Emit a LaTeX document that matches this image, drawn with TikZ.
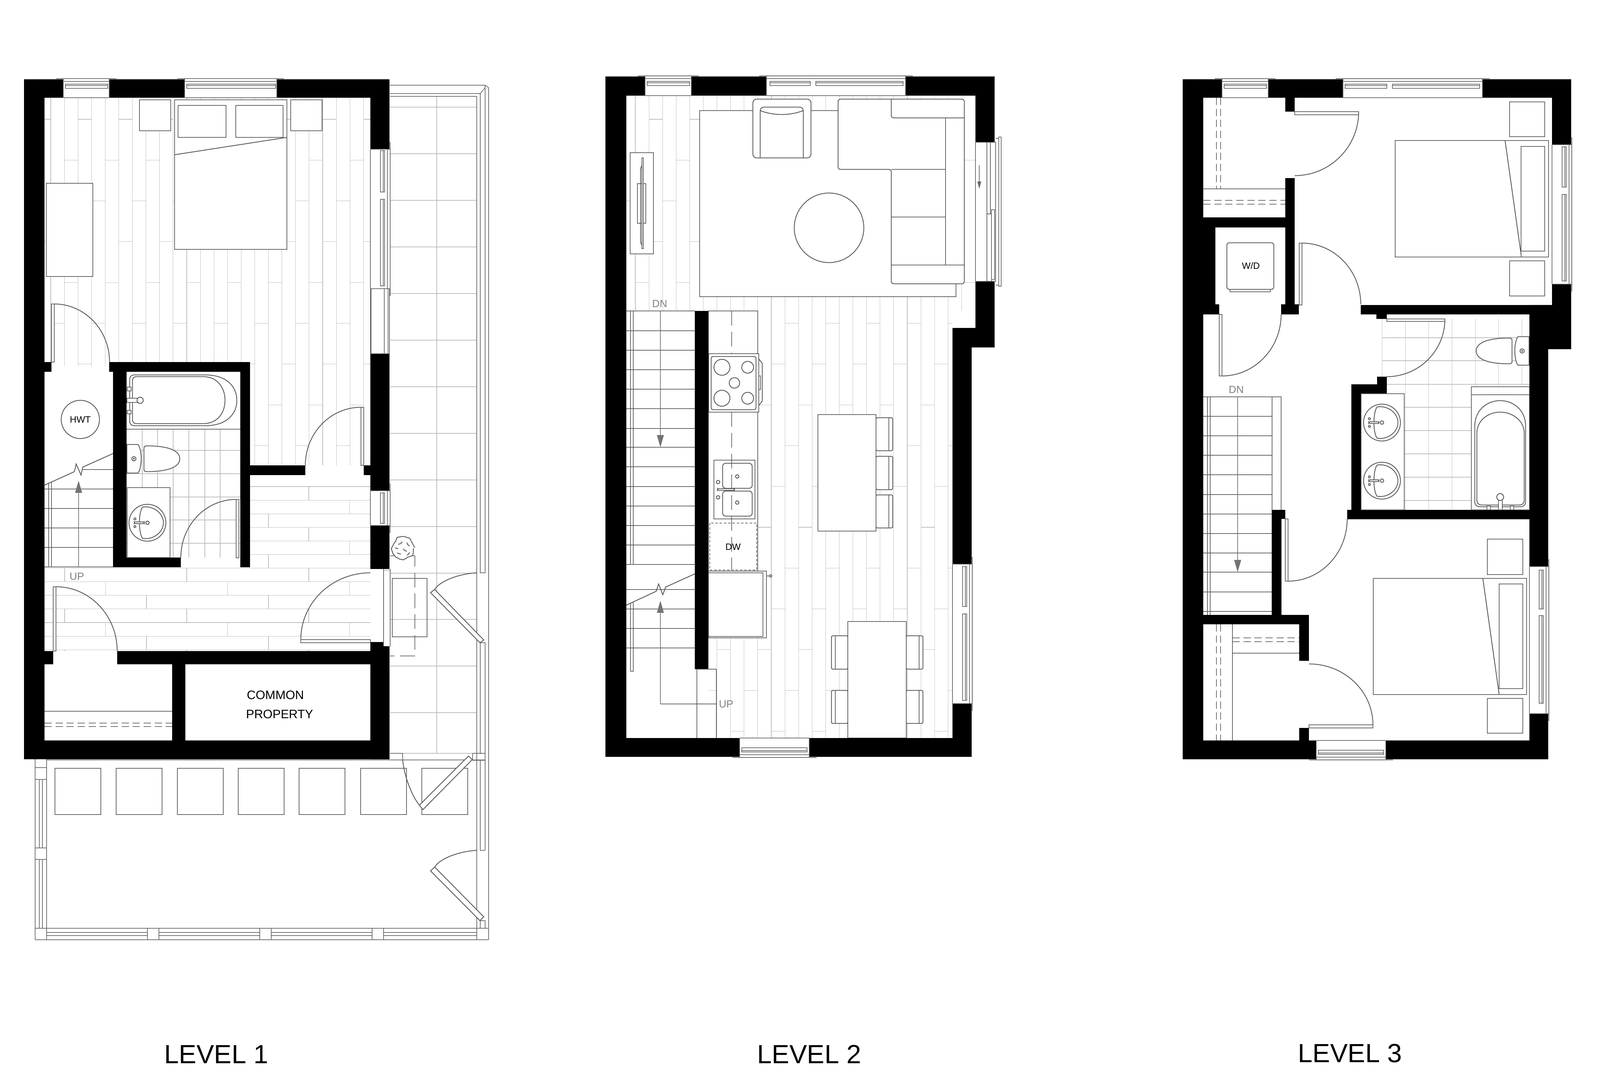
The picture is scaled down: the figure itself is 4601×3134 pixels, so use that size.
\documentclass[tikz,border=0pt]{standalone}
\usepackage{fontspec}
\setmainfont{Liberation Sans}
\usetikzlibrary{calc,arrows.meta,decorations.pathmorphing}

%Window set into a wall: position, rotation, length, wall depth, panes
\newcommand{\wallwin}[5]{
	\begin{scope}[shift={(#1)},rotate=#2]
		\fill[white] (0,0) rectangle (#3,#4);
		\draw[fine] (0,#4) -- (#3,#4);
		\draw[fine] (0,-1) -- (0,#4) (#3,-1) -- (#3,#4);
		\draw[fine] (-21,-2) -- (#3+21,-2);
		\draw[fine] (0,6) -- (#3,6);
		\foreach \a/\b in {#5} {
			\draw[fine] (\a,14) rectangle (\b,26);
			\draw[fine] (\a,18) -- (\b,18);
		}
	\end{scope}
}
%Quarter swing of a door: free end, jamb, corner
\newcommand{\swing}[3]{
	\draw[furn] (#1) .. controls ($(#1)!0.552!(#3)$) and ($(#2)!0.552!(#3)$) .. (#2);
}
%Staggered planks: first x, last column, first y, last row, phase, top, bottom
\newcommand{\planks}[7]{
	\foreach \i in {0,...,#2}
		\draw[plank] ({#1+39.1*\i},#6) -- ({#1+39.1*\i},#7);
	\foreach \j in {0,...,#4}
		\foreach \i in {-1,...,#2} {
			\pgfmathtruncatemacro{\k}{mod(\i+\j+3,3)}
			\ifnum\k=#5
				\draw[plank] ({#1+39.1*\i},{#3+117.3*\j}) -- ({#1+39.1*(\i+1)},{#3+117.3*\j});
			\fi
		}
}
%Round basin, origin at the drain
\newcommand{\basin}[1]{
	\begin{scope}[shift={(#1)}]
		\draw[furn] (0,0) circle (53);
		\draw[furn] (-14,-45) .. controls (20,-50) and (46,-25) .. (46,0) .. controls (46,25) and (20,50) .. (-14,45) .. controls (-26,30) and (-26,-30) .. (-14,-45) -- cycle;
		\draw[furn,fill=white,rounded corners=1pt] (-38,-2.5) rectangle (-9,2.5);
		\draw[furn] (0,0) circle (5) (-36,-11) circle (3) (-36,11) circle (3);
	\end{scope}
}
%Toilet, origin where the tank meets the wall
\newcommand{\toilet}[2]{
	\begin{scope}[shift={(#1)},xscale=#2]
		\draw[furn,fill=white] (0,-41) -- (32,-41) .. controls (44,-25) and (44,25) .. (32,41) -- (0,41) -- cycle;
		\draw[furn,fill=white] (49,-30) .. controls (49,-36) and (52,-37) .. (58,-37) .. controls (115,-37) and (152,-25) .. (152,0) .. controls (152,25) and (115,37) .. (58,37) .. controls (52,37) and (49,36) .. (49,30) -- cycle;
		\draw[furn] (20,0) circle (6);
		\fill[black!65] (20,0) circle (2.5);
	\end{scope}
}

\begin{document}
\begin{tikzpicture}
		[x=0.01cm,y=-0.01cm,line cap=butt,
		%Styles
		wall/.style={fill=black},
		furn/.style={draw=black!65,line width=0.65pt},
		fine/.style={draw=black!60,line width=0.5pt},
		plank/.style={draw=black!28,line width=0.3pt},
		guide/.style={draw=black!60,line width=0.55pt,dash pattern=on 12pt off 5pt},
		shortdash/.style={draw=black!60,line width=0.55pt,dash pattern=on 6pt off 3pt},
		stairarrow/.style={draw=black!55,line width=0.6pt,-{Triangle[width=5.6pt,length=10pt,fill=black!55]}},
		title/.style={font=\fontsize{21.5}{24}\selectfont,inner sep=0pt},
		tag/.style={font=\fontsize{7.5}{9}\selectfont,inner sep=0pt},
		roomname/.style={font=\fontsize{10}{12}\selectfont,inner sep=0pt},
		updown/.style={font=\fontsize{8.5}{10}\selectfont,text=black!50,inner sep=0pt}
		]
		\useasboundingbox (0,0) rectangle (4601,3134);
		\fill[white] (0,0) rectangle (4601,3134);

		%The graphic: level 1
		\begin{scope}
			\clip (128,281) rectangle (1065,1053) (719,1053) rectangle (1065,1338);
			\planks{146}{23}{343}{8}{2}{281}{1338}
		\end{scope}
		\begin{scope}
			\clip (719,1366) rectangle (1065,1633) (128,1633) rectangle (1065,1872);
			\foreach \r in {0,...,12}
				\draw[plank] (128,{1399+39.1*\r}) -- (1065,{1399+39.1*\r});
			\foreach \r in {0,...,12}
				\foreach \n in {-1,...,3} {
					\pgfmathsetmacro{\px}{186+351*\n+117.5*mod(\r,3)}
					\draw[plank] (\px,{1399+39.1*\r}) -- (\px,{1399+39.1*(\r+1)});
				}
		\end{scope}
		\begin{scope}
			\clip (364,1234) rectangle (691,1603);
			\foreach \tx in {409,453,498,543,589,633}
				\draw[plank] (\tx,1234) -- (\tx,1603);
			\foreach \ty in {1295,1362,1429,1495,1562}
				\draw[plank] (364,\ty) -- (691,\ty);
		\end{scope}
		%patio paving
		\foreach \ty in {308,442,576,710,844,978,1112,1246,1380,1514,1648,1781,1915,2049,2166}
			\draw[plank] (1122,\ty) -- (1371,\ty);
		\draw[plank] (1256,277) -- (1256,2166);
		\draw[plank] (1103,1640) -- (1122,1640);

		%bedroom furniture
		\draw[furn,fill=white] (502,287) rectangle (825,717);
		\draw[furn] (512,303) rectangle (650,395) (678,303) rectangle (814,395);
		\draw[furn] (502,445) -- (825,395);
		\draw[furn,fill=white] (401,287) rectangle (491,376);
		\draw[furn,fill=white] (836,287) rectangle (926,376);
		\draw[furn,fill=white] (133,527) rectangle (267,795);

		%walls
		\fill[wall] (69,228) rectangle (1120,281);
		\fill[wall] (69,228) rectangle (128,2183);
		\fill[wall] (1065,228) rectangle (1120,1636);
		\fill[wall] (1065,1846) -- (1103,1846) -- (1103,1858) -- (1120,1858) -- (1120,2183) -- (1065,2183) -- cycle;
		\fill[wall] (69,2129) rectangle (1120,2183);
		\fill[wall] (337,1872) rectangle (1065,1910);
		\fill[wall] (128,1872) rectangle (153,1910);
		\fill[wall] (495,1910) rectangle (533,2129);
		\fill[wall] (128,1041) rectangle (148,1069);
		\fill[wall] (314,1041) rectangle (719,1069);
		\fill[wall] (325,1069) rectangle (364,1631);
		\fill[wall] (325,1603) rectangle (520,1631);
		\fill[wall] (691,1041) rectangle (719,1631);
		\fill[wall] (719,1338) rectangle (878,1366);
		\fill[wall] (1046,1338) rectangle (1065,1366);

		\wallwin{182,228}{0}{132}{53}{6/128}
		\wallwin{531,228}{0}{265}{53}{6/262}
		\wallwin{1120,429}{-90}{401}{55}{4/123,144/393}
		\fill[white] (1067,830) rectangle (1120,1017);
		\draw[fine] (1067,830) rectangle (1120,1017);
		\draw[fine] (1105,830) -- (1105,1017) (1116,830) -- (1116,1017);
		\wallwin{1120,1411}{-90}{100}{55}{6/94}

		%doors
		\draw[furn,fill=white] (148,874) rectangle (156,1041);
		\swing{156,874}{315,1041}{315,874}
		\draw[furn,fill=white] (679,1436) rectangle (687,1604);
		\swing{679,1436}{520,1603}{520,1436}
		\draw[furn,fill=white] (1038,1171) rectangle (1046,1338);
		\swing{1038,1171}{878,1338}{878,1171}
		\draw[furn,fill=white] (153,1687) rectangle (161,1872);
		\swing{161,1687}{337,1872}{337,1687}
		\draw[furn,fill=white] (865,1839) rectangle (1065,1848);
		\swing{865,1839}{1065,1647}{865,1647}
		\draw[furn] (1103,1636) -- (1103,1846) (1122,1636) -- (1122,1858);

		%water heater
		\draw[furn,fill=white] (231,1206) circle (55);
		\node[tag] (hwt) at (231,1206) {HWT};

		%stair up
		\foreach \ty in {1406,1462,1518,1574,1630}
			\draw[furn] (128,\ty) -- (325,\ty);
		\draw[furn] (238,1350) -- (325,1350);
		\draw[furn] (140,1388) -- (140,1630) (148,1385) -- (148,1630);
		\draw[furn] (128,1395) -- (214,1356) -- (219,1334) -- (233,1366) -- (238,1343) -- (325,1304);
		\fill[white] (224,1406) rectangle (228,1418);
		\draw[stairarrow] (226,1630) -- (226,1382);
		\node[updown] (up1) at (221,1657) {UP};

		%bathroom
		\draw[furn] (364,1234) -- (691,1234);
		\draw[furn] (385,1078) -- (590,1078) .. controls (650,1078) and (681,1110) .. (681,1151) .. controls (681,1192) and (650,1224) .. (590,1224) -- (385,1224) .. controls (378,1224) and (373,1219) .. (373,1212) -- (373,1090) .. controls (373,1083) and (378,1078) .. (385,1078) -- cycle;
		\draw[furn] (392,1083) -- (585,1083) .. controls (625,1083) and (647,1115) .. (647,1151) .. controls (647,1187) and (625,1218) .. (585,1218) -- (392,1218) .. controls (385,1218) and (381,1214) .. (381,1207) -- (381,1094) .. controls (381,1087) and (385,1083) .. (392,1083) -- cycle;
		\draw[furn,fill=white] (366,1113) rectangle (377,1124) (366,1180) rectangle (377,1190);
		\draw[furn,fill=white] (365,1145) rectangle (397,1157);
		\draw[furn,fill=white] (403,1151) circle (9);
		\toilet{365,1319}{1}
		\draw[furn,fill=white] (366,1402) rectangle (489,1603);
		\basin{424,1503}

		%storage
		\draw[furn] (128,2045) -- (495,2045);
		\draw[shortdash] (128,2079) -- (495,2079) (128,2089) -- (495,2089);
		\node[roomname] (common) at (792,1998) {COMMON};
		\node[roomname] (property) at (804,2053) {PROPERTY};

		%side patio frame
		\draw[fine] (1122,245) -- (1395,245) -- (1405,252) -- (1405,2702);
		\draw[fine] (1122,269) -- (1381,269) -- (1395,252);
		\draw[fine] (1122,277) -- (1371,277) -- (1371,2702);
		\draw[fine] (1381,269) -- (1381,1647) -- (1395,1647) -- (1395,245);
		\draw[fine] (1381,2168) -- (1381,1848) -- (1395,1848) -- (1395,2168);
		\draw[fine] (1359,2166) rectangle (1395,2186);
		\draw[fine] (1381,2445) -- (1381,2186) (1395,2186) -- (1395,2445) (1381,2445) -- (1395,2445);
		\draw[fine] (1381,2669) -- (1381,2647) -- (1395,2647) -- (1395,2669);
		\draw[furn,fill=white] (1250,1695) -- (1238,1704) -- (1380,1848) -- (1391,1840) -- cycle;
		\swing{1250,1695}{1371,1647}{1275,1652}

		%mat and plant at the entry
		\draw[furn] (1128,1663) rectangle (1228,1831);
		\draw[guide] (1122,1598) -- (1193,1598) -- (1193,1886) -- (1122,1886);
		\draw[furn,fill=white,decorate,decoration={random steps,segment length=3pt,amplitude=1pt}] (1159,1576) circle (30);
		\draw[furn,decorate,decoration={random steps,segment length=2pt,amplitude=1pt}] (1145,1565) -- (1157,1558) (1170,1560) -- (1178,1570) (1142,1590) -- (1152,1594) (1160,1578) -- (1170,1585) (1178,1588) -- (1170,1596) (1136,1575) -- (1145,1578);

		%front yard
		\foreach \sx in {158,334,510,685,860,1037,1213}
			\draw[furn] (\sx,2209) rectangle ++(132,133);
		\draw[fine] (134,2185) -- (1395,2185);
		\draw[fine] (1122,2166) -- (1158,2166) -- (1158,2185);
		\draw[fine] (101,2183) -- (101,2702) (134,2183) -- (134,2702);
		\draw[fine] (113,2241) -- (113,2438) (122,2241) -- (122,2438) (113,2471) -- (113,2669) (122,2471) -- (122,2669);
		\foreach \ty in {2207,2241,2438,2471}
			\draw[fine] (101,\ty) -- (134,\ty);
		\draw[fine] (101,2669) -- (1405,2669) (101,2702) -- (1405,2702);
		\draw[fine] (134,2681) -- (1371,2681) (134,2690) -- (1371,2690);
		\foreach \a/\b in {424/457,747/780,1070/1103} {
			\fill[white] (\a,2670) rectangle (\b,2701);
			\draw[fine] (\a,2669) -- (\a,2702) (\b,2669) -- (\b,2702);
		}
		\draw[furn,fill=white] (1347,2174) -- (1358,2184) -- (1216,2328) -- (1206,2315) -- cycle;
		\swing{1206,2315}{1158,2185}{1165,2265}
		\draw[furn,fill=white] (1250,2493) -- (1238,2504) -- (1380,2647) -- (1391,2636) -- cycle;
		\swing{1250,2493}{1371,2445}{1275,2450}

		\node[title] (level1) at (622,3031) {LEVEL 1};

		%The graphic: level 2
		\begin{scope}
			\clip (1801,275) rectangle (2805,894) (2037,894) rectangle (2739,2122);
			\planks{1827}{24}{343}{15}{1}{275}{2122}
		\end{scope}

		%living room
		\draw[furn,fill=white] (2012,318) rectangle (2749,853);
		\draw[furn,fill=white,rounded corners=3pt] (2165,285) rectangle (2332,454);
		\draw[furn,rounded corners=3pt] (2186,454) -- (2186,308) -- (2310,308) -- (2310,454);
		\draw[furn] (2186,318) .. controls (2225,333) and (2271,333) .. (2310,318);
		\draw[furn,fill=white,rounded corners=2pt] (2410,285) -- (2773,285) -- (2773,816) -- (2563,816) -- (2563,487) -- (2410,487) -- cycle;
		\draw[furn,rounded corners=2pt] (2563,285) -- (2563,339) -- (2773,339);
		\draw[furn] (2719,339) -- (2719,762) (2563,487) -- (2719,487) (2563,624) -- (2719,624) (2563,762) -- (2773,762);
		\draw[furn] (2384,655) circle (100);
		\draw[furn,fill=white] (1812,439) rectangle (1879,730);
		\draw[furn] (1846,476) .. controls (1842,482) and (1842,486) .. (1842,492) -- (1842,690) .. controls (1842,696) and (1842,700) .. (1846,704);
		\draw[furn] (1833,528) rectangle (1857,642);
		\draw[furn,fill=white] (1846,454) rectangle (1850,715);

		%kitchen
		\draw[furn,fill=white] (2037,894) rectangle (2179,1645);
		\draw[guide] (2104,894) -- (2104,1017);
		\draw[furn,fill=white] (2038,1017) rectangle (2182,1185);
		\draw[furn,rounded corners=1.5pt] (2045,1025) rectangle (2174,1178);
		\draw[furn] (2076,1056) circle (23) (2150,1056) circle (17) (2112,1101) circle (15) (2076,1145) circle (23) (2150,1145) circle (17);
		\draw[furn] (2182,1032) -- (2192,1045) -- (2192,1153) -- (2182,1166);
		\draw[furn] (2182,1081) rectangle (2187,1120);
		\draw[guide] (2104,1185) -- (2104,1639);
		\draw[furn] (2053,1323) rectangle (2171,1492);
		\draw[furn,rounded corners=2.5pt] (2078,1332) rectangle (2163,1404) (2078,1412) rectangle (2163,1484);
		\draw[furn] (2120,1370) circle (5) (2120,1445) circle (5) (2065,1386) circle (5) (2065,1430) circle (5);
		\draw[furn,fill=white,rounded corners=1pt] (2063,1405) rectangle (2112,1410);
		\draw[shortdash,dash pattern=on 2pt off 1.5pt] (2041,1504) rectangle (2176,1639);
		\node[tag] (dw) at (2108,1572) {DW};
		\draw[furn,fill=white] (2037,1642) rectangle (2204,1834);
		\draw[furn] (2037,1647) -- (2194,1647) -- (2194,1830) -- (2037,1830);
		\draw[furn] (2204,1656) -- (2213,1656);
		\draw[furn] (2216,1656) circle (3.5);

		%island and stools
		\foreach \a/\b in {1201/1296,1312/1408,1423/1518} {
			\draw[furn,fill=white,rounded corners=1pt] (2519,\a) rectangle (2567,\b);
			\draw[furn] (2556,\a) -- (2556,\b);
		}
		\draw[furn,fill=white] (2352,1192) rectangle (2519,1527);

		%dining table
		\foreach \a/\b in {1828/1924,1985/2080} {
			\draw[furn,fill=white,rounded corners=1pt] (2391,\a) rectangle (2438,\b);
			\draw[furn] (2402,\a) -- (2402,\b);
			\draw[furn,fill=white,rounded corners=1pt] (2606,\a) rectangle (2654,\b);
			\draw[furn] (2643,\a) -- (2643,\b);
		}
		\draw[furn,fill=white] (2438,1787) rectangle (2606,2122);

		%walls
		\fill[wall,even odd rule] (1741,220) -- (2860,220) -- (2860,999) -- (2794,999) -- (2794,2176) -- (1741,2176) -- cycle
			(1801,275) -- (2805,275) -- (2805,943) -- (2739,943) -- (2739,2122) -- (1801,2122) -- cycle;
		\fill[wall] (1998,894) rectangle (2037,1924);

		\wallwin{1855,220}{0}{133}{55}{6/128}
		\wallwin{2204,220}{0}{400}{55}{10/126,142/393}
		\wallwin{2794,1622}{-90}{401}{55}{7/122,143/392}
		\wallwin{2327,2176}{180}{200}{54}{6/194}

		%sliding door
		\fill[white] (2805,409) rectangle (2860,809);
		\draw[fine] (2805,409) -- (2805,809);
		\draw[fine] (2805,409) -- (2863,409) -- (2863,809) -- (2805,809);
		\draw[furn] (2838,409) rectangle (2848,615);
		\draw[furn] (2838,615) rectangle (2851,809);
		\draw[fine] (2851,603) rectangle (2860,804);
		\draw[fine] (2872,394) rectangle (2879,823);
		\draw[fine] (2863,398) -- (2872,398) (2863,820) -- (2872,820);
		\draw[draw=black!60,line width=0.5pt,-{Triangle[width=3pt,length=6pt,fill=black!60]}] (2816,475) -- (2816,543);

		%stair between levels
		\foreach \ty in {894,951,1007,1063,1119,1175,1232,1286,1342,1399,1455,1511,1567,1623}
			\draw[furn] (1801,\ty) -- (1998,\ty);
		\foreach \ty in {1695,1751,1807,1863}
			\draw[furn] (1801,\ty) -- (1998,\ty);
		\draw[furn] (1813,894) -- (1813,1623) (1821,894) -- (1821,1623);
		\draw[furn] (1813,1735) -- (1813,1930) -- (1821,1930) -- (1821,1730);
		\draw[furn] (1801,1740) -- (1887,1700) -- (1894,1679) -- (1906,1710) -- (1914,1688) -- (1998,1650);
		\draw[stairarrow] (1899,894) -- (1899,1286);
		\draw[furn] (2060,2024) -- (1899,2024);
		\draw[stairarrow] (1899,2024) -- (1899,1727);
		\draw[furn] (2004,1924) -- (2004,2122) (2060,1924) -- (2060,2122) (2004,1924) -- (2060,1924);
		\node[updown] (dn2) at (1897,873) {DN};
		\node[updown] (up2) at (2088,2024) {UP};

		\node[title] (level2) at (2327,3031) {LEVEL 2};

		%The graphic: level 3
		%bathroom tiles
		\begin{scope}
			\clip (3914,917) rectangle (4398,1466);
			\foreach \tx in {3974,4041,4108,4175,4242,4309,4376}
				\draw[plank] (\tx,917) -- (\tx,1466);
			\foreach \ty in {971,1037,1105,1171,1238,1305,1372,1439}
				\draw[plank] (3974,\ty) -- (4398,\ty);
		\end{scope}

		%walls
		\fill[wall,even odd rule] (3401,228) -- (4518,228) -- (4518,1004) -- (4452,1004) -- (4452,2183) -- (3401,2183) -- cycle
			(3460,281) -- (4463,281) -- (4463,877) -- (4398,877) -- (4398,2129) -- (3460,2129) -- cycle;
		\fill[wall] (3696,281) rectangle (3723,321);
		\fill[wall] (3696,512) rectangle (3723,904);
		\fill[wall] (3460,625) rectangle (3723,654);
		\fill[wall] (3460,654) rectangle (3495,875);
		\fill[wall] (3460,875) rectangle (3506,904);
		\fill[wall] (3684,875) rectangle (3735,904);
		\fill[wall] (3913,877) rectangle (4398,904);
		\fill[wall] (3958,904) rectangle (3988,917);
		\fill[wall] (3960,1083) rectangle (3988,1132);
		\fill[wall] (3886,1105) rectangle (3988,1132);
		\fill[wall] (3886,1105) rectangle (3914,1467);
		\fill[wall] (3874,1466) rectangle (4398,1493);
		\fill[wall] (3657,1466) rectangle (3696,1492);
		\fill[wall] (3657,1466) rectangle (3685,1768);
		\fill[wall] (3460,1768) rectangle (3764,1795);
		\fill[wall] (3736,1768) rectangle (3764,1900);
		\fill[wall] (3736,2093) rectangle (3764,2129);

		\wallwin{3514,228}{0}{133}{53}{6/128}
		\wallwin{3862,228}{0}{401}{53}{6/126,142/393}
		\wallwin{4518,416}{-90}{401}{55}{6/122,143/392}
		\wallwin{4452,1629}{-90}{423}{54}{10/122,141/393}
		\wallwin{3985,2183}{180}{200}{54}{6/194}

		%doors
		\draw[furn,fill=white] (3723,321) rectangle (3907,330);
		\swing{3907,321}{3723,505}{3907,505}
		\draw[furn,fill=white] (3736,699) rectangle (3744,877);
		\swing{3744,699}{3913,875}{3913,699}
		\draw[furn,fill=white] (3506,904) rectangle (3514,1081);
		\swing{3514,1081}{3684,904}{3684,1081}
		\draw[furn,fill=white] (3988,917) rectangle (4155,924);
		\swing{4155,917}{3988,1083}{4155,1083}
		\draw[furn,fill=white] (3696,1492) rectangle (3704,1671);
		\swing{3704,1671}{3874,1492}{3874,1671}
		\draw[furn,fill=white] (3764,2084) rectangle (3948,2093);
		\swing{3948,2084}{3764,1909}{3948,1909}

		%closets
		\draw[shortdash] (3498,281) -- (3498,543) (3510,281) -- (3510,543);
		\draw[furn] (3460,543) -- (3696,543);
		\draw[shortdash] (3460,576) -- (3696,576) (3460,587) -- (3696,587);
		\draw[shortdash] (3498,1795) -- (3498,2129) (3510,1795) -- (3510,2129);
		\draw[furn] (3544,1795) -- (3544,2129) (3544,1878) -- (3736,1878);
		\draw[shortdash] (3544,1834) -- (3736,1834) (3544,1845) -- (3736,1845);

		%washer
		\draw[furn,rounded corners=2pt] (3528,698) rectangle (3663,832);
		\draw[furn] (3537,832) -- (3537,839) -- (3653,839) -- (3653,832);
		\node[tag] (wd) at (3597,764) {W/D};

		%bedrooms
		\draw[furn,fill=white] (4012,404) rectangle (4453,739);
		\draw[furn] (4374,421) rectangle (4442,722);
		\draw[furn] (4328,404) -- (4375,739);
		\draw[furn] (4341,293) rectangle (4442,393) (4341,750) rectangle (4442,851);
		\draw[furn,fill=white] (3949,1663) rectangle (4390,1997);
		\draw[furn] (4311,1679) rectangle (4379,1980);
		\draw[furn] (4264,1663) -- (4311,1997);
		\draw[furn] (4277,1550) rectangle (4379,1652) (4277,2008) rectangle (4379,2108);

		%bathroom
		\toilet{4397,1009}{-1}
		\draw[furn,fill=white] (3914,1132) rectangle (4038,1466);
		\basin{3974,1215}
		\basin{3974,1382}
		\draw[furn,fill=white] (4231,1112) rectangle (4398,1466);
		\draw[furn] (4231,1135) -- (4398,1135);
		\draw[furn] (4241,1445) -- (4241,1225) .. controls (4241,1180) and (4275,1152) .. (4314,1152) .. controls (4353,1152) and (4387,1180) .. (4387,1225) -- (4387,1445) .. controls (4387,1452) and (4380,1457) .. (4373,1457) -- (4255,1457) .. controls (4248,1457) and (4241,1452) .. (4241,1445) -- cycle;
		\draw[furn] (4247,1440) -- (4247,1245) .. controls (4247,1210) and (4278,1185) .. (4314,1185) .. controls (4350,1185) and (4383,1210) .. (4383,1245) -- (4383,1440) .. controls (4383,1447) and (4377,1452) .. (4370,1452) -- (4260,1452) .. controls (4253,1452) and (4247,1447) .. (4247,1440) -- cycle;
		\draw[furn,fill=white] (4276,1455) rectangle (4286,1466) (4343,1455) rectangle (4353,1466);
		\draw[furn,fill=white] (4309,1438) rectangle (4320,1466);
		\draw[furn,fill=white] (4314,1429) circle (10);

		%stair down
		\foreach \ty in {1141,1197,1253,1309,1365,1422,1478,1534,1590,1645,1702,1758}
			\draw[furn] (3460,\ty) -- (3657,\ty);
		\draw[furn] (3472,1141) -- (3472,1768) (3480,1141) -- (3480,1768);
		\draw[furn] (3657,1141) -- (3684,1141) -- (3684,1466);
		\draw[furn] (3658,1141) -- (3658,1466);
		\draw[stairarrow] (3559,1141) -- (3559,1645);
		\node[updown] (dn3) at (3555,1120) {DN};

		\node[title] (level3) at (3882,3028) {LEVEL 3};
	\end{tikzpicture}
\end{document}
